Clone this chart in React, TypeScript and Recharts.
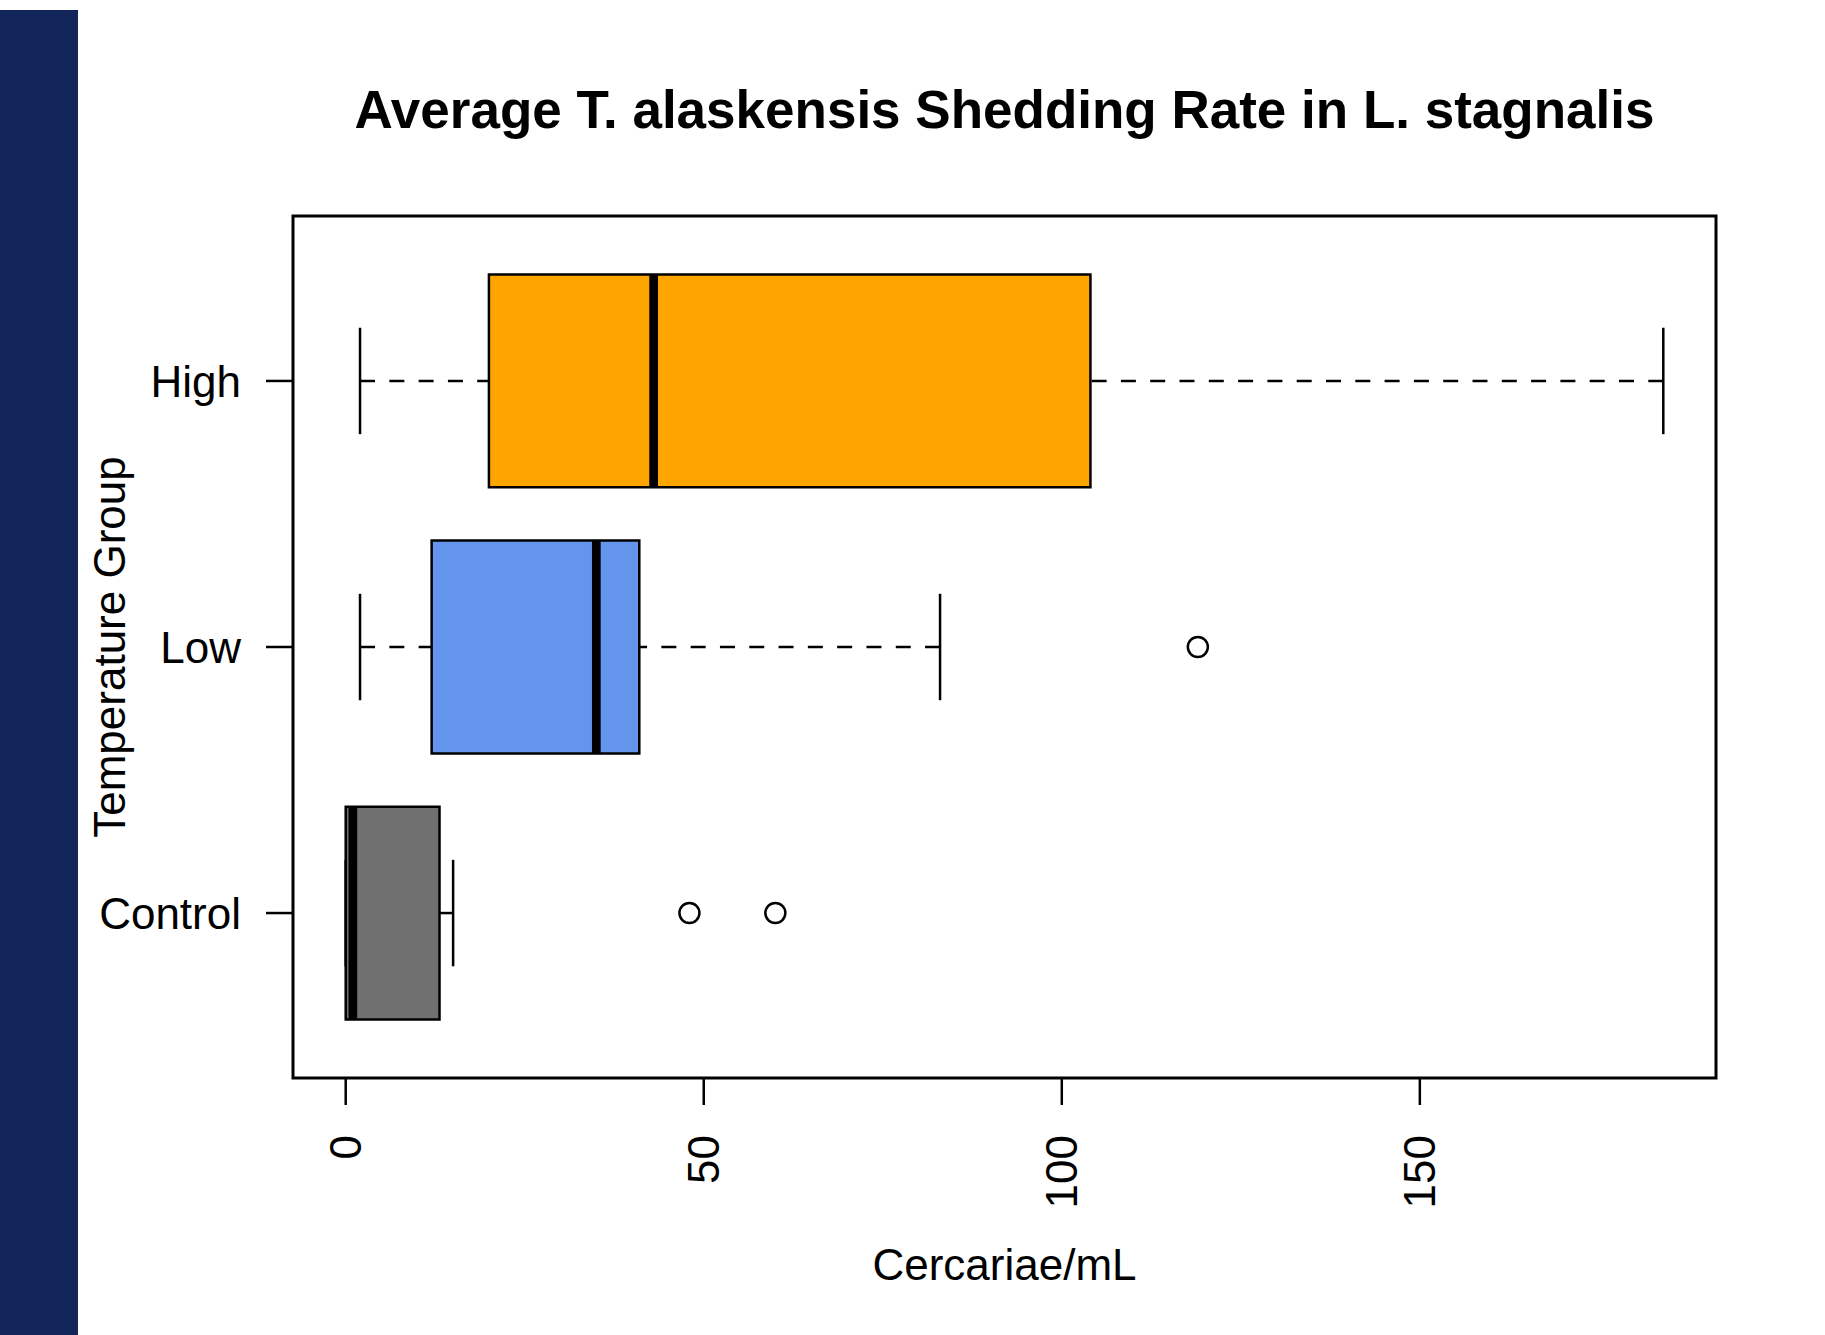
import React from 'react'
import { ScatterChart, Scatter, XAxis, YAxis, ReferenceArea, ReferenceLine } from 'recharts'

// boxplot stats per temperature group (bottom to top)
const groups = ['Control', 'Low', 'High']
const lowerWhisker = [0, 2, 2]
const q1 = [0, 12, 20]
const median = [1, 35, 43]
const q3 = [13.1, 41, 104]
const upperWhisker = [15, 83, 184]
const boxColors = ['#707070', '#6495ED', '#FFA500']

const outlierGroup = ['Control', 'Control', 'Low']
const outlierValue = [48, 60, 119]

const xTicks = [0, 50, 100, 150]
const yTicks = [1, 2, 3]

// R style axis padding (4% of data range)
const X_MIN = -7.36
const X_MAX = 191.36
const Y_MIN = 0.38
const Y_MAX = 3.62

const FONT = '"Liberation Sans", Arial, Helvetica, sans-serif'

const outliers = outlierValue.map((v, i) => ({ x: v, y: groups.indexOf(outlierGroup[i]) + 1 }))

function XTick({ x, y, payload }: any) {
  return (
    <text
      x={x}
      y={y}
      dy="0.355em"
      transform={`rotate(-90 ${x} ${y})`}
      textAnchor="end"
      fontSize={44}
      fontFamily={FONT}
      fill="#000"
    >
      {payload.value}
    </text>
  )
}

function Outlier({ cx, cy }: any) {
  return <circle cx={cx} cy={cy} r={10} fill="none" stroke="#000" strokeWidth={2.5} />
}

export default function App() {
  return (
    <div style={{ position: 'absolute', left: 0, top: 0, width: 1825, height: 1335, background: '#fff', fontFamily: FONT }}>
      <div style={{ position: 'absolute', left: 0, top: 10, width: 78, height: 1325, background: '#13265C' }} />
      <div
        style={{
          position: 'absolute',
          left: 293,
          top: 83,
          width: 1423,
          textAlign: 'center',
          fontSize: 53,
          lineHeight: '53px',
          fontWeight: 'bold',
          color: '#000',
        }}
      >
        Average T. alaskensis Shedding Rate in L. stagnalis
      </div>
      <div
        style={{
          position: 'absolute',
          left: 293,
          top: 1243,
          width: 1423,
          textAlign: 'center',
          fontSize: 44,
          lineHeight: '44px',
          color: '#000',
        }}
      >
        Cercariae/mL
      </div>
      <div
        style={{
          position: 'absolute',
          left: 110 - 300,
          top: 647 - 22,
          width: 600,
          height: 44,
          textAlign: 'center',
          fontSize: 44,
          lineHeight: '44px',
          color: '#000',
          transform: 'rotate(-90deg)',
        }}
      >
        Temperature Group
      </div>

      <div style={{ position: 'absolute', left: 0, top: 0 }}>
        <ScatterChart width={1825} height={1335} margin={{ top: 216, right: 109, bottom: 107, left: 93 }}>
          <XAxis
            type="number"
            dataKey="x"
            domain={[X_MIN, X_MAX]}
            allowDataOverflow
            ticks={xTicks}
            interval={0}
            height={150}
            axisLine={false}
            stroke="#000"
            tickLine={{ stroke: '#000', strokeWidth: 2.5 }}
            tickSize={27}
            tickMargin={30}
            tick={<XTick />}
          />
          <YAxis
            type="number"
            dataKey="y"
            domain={[Y_MIN, Y_MAX]}
            allowDataOverflow
            ticks={yTicks}
            interval={0}
            width={200}
            axisLine={false}
            stroke="#000"
            tickLine={{ stroke: '#000', strokeWidth: 2.5 }}
            tickSize={27}
            tickMargin={25}
            tickFormatter={(v: number) => groups[v - 1]}
            tick={{ fill: '#000', fontSize: 44, fontFamily: FONT }}
          />

          {groups.map((g, i) => (
            <ReferenceArea
              key={`box-${g}`}
              x1={q1[i]}
              x2={q3[i]}
              y1={i + 1 - 0.4}
              y2={i + 1 + 0.4}
              fill={boxColors[i]}
              fillOpacity={1}
              stroke="#000"
              strokeWidth={2.5}
              ifOverflow="visible"
            />
          ))}

          {groups.map((g, i) => (
            <ReferenceLine
              key={`lw-${g}`}
              segment={[{ x: lowerWhisker[i], y: i + 1 }, { x: q1[i], y: i + 1 }]}
              stroke="#000"
              strokeWidth={2.5}
              strokeDasharray="15 14.3"
              ifOverflow="visible"
            />
          ))}
          {groups.map((g, i) => (
            <ReferenceLine
              key={`uw-${g}`}
              segment={[{ x: upperWhisker[i], y: i + 1 }, { x: q3[i], y: i + 1 }]}
              stroke="#000"
              strokeWidth={2.5}
              strokeDasharray="15 14.3"
              ifOverflow="visible"
            />
          ))}
          {groups.map((g, i) => (
            <ReferenceLine
              key={`lc-${g}`}
              segment={[{ x: lowerWhisker[i], y: i + 1 - 0.2 }, { x: lowerWhisker[i], y: i + 1 + 0.2 }]}
              stroke="#000"
              strokeWidth={2.5}
              ifOverflow="visible"
            />
          ))}
          {groups.map((g, i) => (
            <ReferenceLine
              key={`uc-${g}`}
              segment={[{ x: upperWhisker[i], y: i + 1 - 0.2 }, { x: upperWhisker[i], y: i + 1 + 0.2 }]}
              stroke="#000"
              strokeWidth={2.5}
              ifOverflow="visible"
            />
          ))}
          {groups.map((g, i) => (
            <ReferenceLine
              key={`med-${g}`}
              segment={[{ x: median[i], y: i + 1 - 0.4 }, { x: median[i], y: i + 1 + 0.4 }]}
              stroke="#000"
              strokeWidth={8.7}
              ifOverflow="visible"
            />
          ))}

          <ReferenceArea
            x1={X_MIN}
            x2={X_MAX}
            y1={Y_MIN}
            y2={Y_MAX}
            fill="none"
            stroke="#000"
            strokeWidth={3}
            ifOverflow="visible"
          />

          <Scatter data={outliers} shape={<Outlier />} isAnimationActive={false} />
        </ScatterChart>
      </div>
    </div>
  )
}
